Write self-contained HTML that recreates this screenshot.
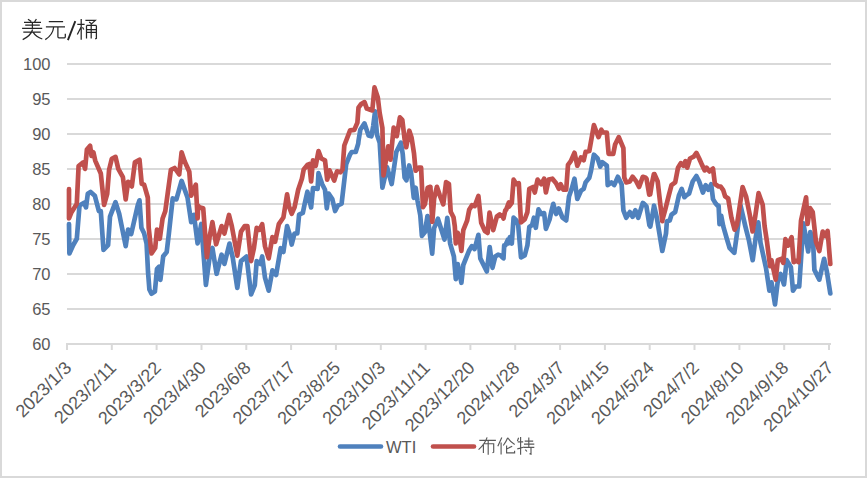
<!DOCTYPE html>
<html><head><meta charset="utf-8"><style>
html,body{margin:0;padding:0;background:#fff;}
body{width:867px;height:478px;overflow:hidden;}
svg{display:block;}
text{font-family:"Liberation Sans",sans-serif;fill:#595959;}
</style></head><body>
<svg width="867" height="478" viewBox="0 0 867 478">
<rect x="1" y="1" width="865" height="476" fill="#fff" stroke="#D9D9D9" stroke-width="2"/>
<g font-size="16.5"><line x1="67" y1="64" x2="831" y2="64" stroke="#D9D9D9" stroke-width="2"/><text x="50.5" y="69.5" text-anchor="end">100</text><line x1="67" y1="99" x2="831" y2="99" stroke="#D9D9D9" stroke-width="2"/><text x="50.5" y="104.5" text-anchor="end">95</text><line x1="67" y1="134" x2="831" y2="134" stroke="#D9D9D9" stroke-width="2"/><text x="50.5" y="139.5" text-anchor="end">90</text><line x1="67" y1="169" x2="831" y2="169" stroke="#D9D9D9" stroke-width="2"/><text x="50.5" y="174.5" text-anchor="end">85</text><line x1="67" y1="204" x2="831" y2="204" stroke="#D9D9D9" stroke-width="2"/><text x="50.5" y="209.5" text-anchor="end">80</text><line x1="67" y1="239" x2="831" y2="239" stroke="#D9D9D9" stroke-width="2"/><text x="50.5" y="244.5" text-anchor="end">75</text><line x1="67" y1="274" x2="831" y2="274" stroke="#D9D9D9" stroke-width="2"/><text x="50.5" y="279.5" text-anchor="end">70</text><line x1="67" y1="309" x2="831" y2="309" stroke="#D9D9D9" stroke-width="2"/><text x="50.5" y="314.5" text-anchor="end">65</text><text x="50.5" y="349.5" text-anchor="end">60</text><line x1="66" y1="344" x2="831" y2="344" stroke="#D9D9D9" stroke-width="2"/><line x1="67.0" y1="343" x2="67.0" y2="350" stroke="#D9D9D9" stroke-width="2"/><line x1="111.8" y1="343" x2="111.8" y2="350" stroke="#D9D9D9" stroke-width="2"/><line x1="156.6" y1="343" x2="156.6" y2="350" stroke="#D9D9D9" stroke-width="2"/><line x1="201.5" y1="343" x2="201.5" y2="350" stroke="#D9D9D9" stroke-width="2"/><line x1="246.3" y1="343" x2="246.3" y2="350" stroke="#D9D9D9" stroke-width="2"/><line x1="291.1" y1="343" x2="291.1" y2="350" stroke="#D9D9D9" stroke-width="2"/><line x1="335.9" y1="343" x2="335.9" y2="350" stroke="#D9D9D9" stroke-width="2"/><line x1="380.8" y1="343" x2="380.8" y2="350" stroke="#D9D9D9" stroke-width="2"/><line x1="425.6" y1="343" x2="425.6" y2="350" stroke="#D9D9D9" stroke-width="2"/><line x1="470.4" y1="343" x2="470.4" y2="350" stroke="#D9D9D9" stroke-width="2"/><line x1="515.2" y1="343" x2="515.2" y2="350" stroke="#D9D9D9" stroke-width="2"/><line x1="560.1" y1="343" x2="560.1" y2="350" stroke="#D9D9D9" stroke-width="2"/><line x1="604.9" y1="343" x2="604.9" y2="350" stroke="#D9D9D9" stroke-width="2"/><line x1="649.7" y1="343" x2="649.7" y2="350" stroke="#D9D9D9" stroke-width="2"/><line x1="694.5" y1="343" x2="694.5" y2="350" stroke="#D9D9D9" stroke-width="2"/><line x1="739.4" y1="343" x2="739.4" y2="350" stroke="#D9D9D9" stroke-width="2"/><line x1="784.2" y1="343" x2="784.2" y2="350" stroke="#D9D9D9" stroke-width="2"/><line x1="829.0" y1="343" x2="829.0" y2="350" stroke="#D9D9D9" stroke-width="2"/></g>
<g font-size="18"><text transform="translate(72.5,369.0) rotate(-45)" text-anchor="end">2023/1/3</text><text transform="translate(117.3,369.0) rotate(-45)" text-anchor="end">2023/2/11</text><text transform="translate(162.1,369.0) rotate(-45)" text-anchor="end">2023/3/22</text><text transform="translate(207.0,369.0) rotate(-45)" text-anchor="end">2023/4/30</text><text transform="translate(251.8,369.0) rotate(-45)" text-anchor="end">2023/6/8</text><text transform="translate(296.6,369.0) rotate(-45)" text-anchor="end">2023/7/17</text><text transform="translate(341.4,369.0) rotate(-45)" text-anchor="end">2023/8/25</text><text transform="translate(386.3,369.0) rotate(-45)" text-anchor="end">2023/10/3</text><text transform="translate(431.1,369.0) rotate(-45)" text-anchor="end">2023/11/11</text><text transform="translate(475.9,369.0) rotate(-45)" text-anchor="end">2023/12/20</text><text transform="translate(520.7,369.0) rotate(-45)" text-anchor="end">2024/1/28</text><text transform="translate(565.6,369.0) rotate(-45)" text-anchor="end">2024/3/7</text><text transform="translate(610.4,369.0) rotate(-45)" text-anchor="end">2024/4/15</text><text transform="translate(655.2,369.0) rotate(-45)" text-anchor="end">2024/5/24</text><text transform="translate(700.0,369.0) rotate(-45)" text-anchor="end">2024/7/2</text><text transform="translate(744.9,369.0) rotate(-45)" text-anchor="end">2024/8/10</text><text transform="translate(789.7,369.0) rotate(-45)" text-anchor="end">2024/9/18</text><text transform="translate(834.5,369.0) rotate(-45)" text-anchor="end">2024/10/27</text></g>
<path d="M69.0,224.0 L69.4,253.5 L73.1,245.2 L76.8,238.8 L79.5,205.5 L84.1,202.8 L86.0,207.4 L87.8,193.8 L90.6,192.0 L94.8,195.7 L98.9,211.1 L100.8,211.1 L103.5,249.8 L108.1,245.2 L110.0,216.6 L115.5,202.1 L119.2,213.8 L125.7,246.1 L128.1,229.5 L131.2,234.1 L137.7,205.5 L139.5,200.3 L141.4,227.7 L144.1,233.2 L146.6,243.8 L148.0,271.5 L149.4,289.5 L151.5,293.7 L154.9,291.6 L157.0,268.8 L159.1,266.7 L160.4,279.8 L163.2,256.3 L166.7,252.1 L168.8,234.2 L172.7,198.4 L176.4,199.4 L181.6,180.9 L187.5,197.5 L191.2,222.1 L193.9,214.8 L197.6,243.4 L201.3,224.0 L205.9,284.9 L209.6,257.2 L212.4,248.0 L216.6,273.8 L221.6,254.7 L224.4,263.9 L229.5,243.6 L232.7,257.4 L237.3,287.9 L241.0,261.1 L246.5,256.5 L251.1,294.4 L254.8,285.1 L256.7,261.1 L260.4,263.9 L262.2,256.5 L265.0,277.7 L268.7,290.7 L272.4,270.4 L276.1,275.0 L280.7,248.2 L283.4,251.9 L287.1,226.1 L289.9,235.3 L291.7,244.5 L294.5,233.5 L297.3,233.5 L299.1,214.7 L302.8,212.9 L304.7,203.7 L307.4,191.7 L311.1,207.4 L313.0,188.0 L317.6,188.9 L318.5,173.2 L322.2,184.3 L325.0,189.8 L326.8,208.3 L328.6,193.5 L332.3,199.1 L335.1,211.0 L337.9,205.5 L341.6,203.7 L346.2,164.0 L349.9,154.8 L351.7,152.0 L355.4,152.0 L355.7,152.0 L358.2,143.7 L358.5,140.9 L360.3,129.8 L364.5,123.4 L368.6,135.4 L371.4,136.3 L373.2,126.1 L375.1,111.4 L376.9,134.4 L379.7,142.7 L382.4,187.7 L387.1,167.4 L391.7,184.0 L396.3,152.0 L400.9,142.7 L402.7,153.8 L404.6,177.5 L406.4,180.3 L409.2,165.5 L411.1,172.9 L413.8,197.8 L415.7,187.7 L417.5,200.6 L420.3,215.4 L421.9,235.8 L422.1,235.7 L424.9,232.0 L427.5,216.0 L427.7,216.3 L432.2,253.7 L434.1,228.2 L437.9,218.8 L444.5,239.5 L447.3,217.9 L450.1,243.3 L453.9,256.5 L455.8,279.1 L457.7,264.0 L461.4,282.8 L463.3,265.0 L469.0,250.8 L471.8,246.1 L474.6,249.0 L478.4,234.8 L480.3,258.4 L486.8,271.5 L489.7,247.1 L492.5,267.8 L495.3,256.5 L498.1,254.6 L500.7,255.5 L502.4,257.3 L503.5,258.3 L504.2,245.3 L505.3,245.4 L507.9,239.8 L508.1,243.5 L509.9,237.1 L511.8,243.5 L513.6,217.7 L516.4,220.4 L518.2,225.1 L521.0,257.4 L524.7,255.5 L527.4,245.4 L529.3,226.9 L532.1,225.1 L533.9,217.7 L535.8,227.8 L538.5,209.4 L541.3,214.0 L544.1,213.1 L545.9,228.8 L549.6,219.5 L551.4,211.2 L553.3,203.8 L556.1,214.0 L558.8,208.5 L562.5,217.7 L566.2,220.4 L569.0,196.5 L571.7,188.8 L574.5,178.7 L577.3,199.0 L581.0,190.7 L583.7,188.8 L585.6,182.4 L589.3,177.7 L591.1,170.4 L593.9,154.7 L597.6,158.4 L600.3,166.7 L602.2,162.1 L606.8,165.7 L607.7,185.1 L611.4,182.4 L614.2,185.1 L617.9,176.8 L621.6,184.2 L623.4,210.3 L626.2,217.7 L629.9,212.1 L632.6,216.8 L635.4,210.3 L638.2,217.7 L642.8,202.9 L644.8,204.6 L646.5,206.6 L649.4,225.1 L650.2,226.0 L650.3,226.7 L653.9,206.6 L654.0,205.5 L656.8,217.5 L662.3,251.0 L666.0,233.5 L666.9,221.2 L669.7,220.5 L671.5,214.7 L675.2,212.0 L678.9,195.4 L681.7,188.9 L684.4,197.2 L686.3,195.4 L689.1,193.5 L692.7,181.5 L696.4,176.0 L699.2,181.5 L702.9,192.6 L705.7,185.2 L708.4,189.8 L711.2,184.3 L713.0,199.1 L715.8,203.7 L718.5,206.6 L718.6,205.5 L719.5,224.2 L721.2,215.8 L723.2,226.1 L726.9,239.0 L729.7,248.2 L734.3,252.8 L737.0,233.5 L740.6,205.7 L745.3,226.1 L749.0,240.8 L752.7,260.2 L755.5,239.0 L758.3,222.4 L760.5,242.7 L766.0,268.0 L769.4,290.7 L771.5,282.4 L775.0,304.5 L777.8,281.0 L780.5,274.0 L784.0,284.4 L786.7,260.2 L790.9,267.1 L793.0,290.7 L795.7,286.5 L799.2,286.5 L803.4,223.3 L808.2,251.5 L810.3,232.0 L813.0,239.9 L814.4,269.9 L819.3,279.6 L824.1,258.8 L826.9,271.8 L830.3,293.4" fill="none" stroke="#4F81BD" stroke-width="4.7" stroke-linejoin="round" stroke-linecap="round"/>
<path d="M69.0,189.2 L69.0,218.5 L71.2,212.9 L76.8,203.7 L78.6,166.1 L83.2,162.4 L85.1,168.9 L86.9,149.5 L90.1,145.8 L91.5,156.0 L93.4,152.3 L95.2,160.6 L100.8,173.5 L104.1,204.9 L107.2,193.8 L109.1,169.8 L111.8,158.8 L115.5,156.9 L118.3,168.9 L122.9,177.2 L125.7,199.4 L128.1,181.8 L131.8,186.4 L134.9,162.4 L139.5,159.7 L141.7,183.7 L144.1,184.6 L147.8,197.5 L148.7,227.7 L151.5,253.5 L155.2,248.0 L157.0,229.5 L159.8,238.8 L162.6,218.5 L165.3,211.1 L170.9,169.8 L174.6,168.0 L179.2,174.4 L181.6,152.3 L184.7,161.5 L189.3,171.7 L191.2,195.7 L195.8,184.6 L197.6,218.5 L198.2,205.8 L199.5,207.4 L203.2,208.3 L206.9,257.2 L209.6,236.9 L212.4,222.1 L216.1,244.3 L221.6,226.1 L224.4,233.5 L229.0,215.0 L231.8,226.1 L237.3,255.6 L241.0,231.6 L244.7,226.1 L247.4,226.1 L251.1,261.1 L253.9,248.2 L256.7,227.9 L259.4,229.8 L262.2,224.2 L265.0,246.4 L268.7,258.4 L272.4,237.1 L275.1,241.8 L278.8,224.2 L283.4,217.5 L287.1,194.4 L289.0,206.4 L291.7,213.8 L294.5,207.4 L298.2,189.8 L301.9,178.8 L303.7,169.5 L307.4,164.9 L309.3,164.0 L311.1,181.5 L313.0,160.3 L315.7,165.8 L318.5,151.1 L321.3,158.5 L325.0,160.3 L327.2,179.7 L329.6,170.4 L334.2,180.6 L337.0,171.4 L340.6,172.3 L342.5,169.5 L344.3,145.5 L350.1,130.4 L354.3,129.9 L357.4,122.6 L358.5,107.7 L361.2,104.0 L364.5,102.1 L366.8,108.6 L369.5,109.5 L372.3,110.4 L374.5,87.4 L377.8,97.5 L379.7,113.2 L382.4,128.0 L383.5,175.4 L388.2,146.4 L390.5,159.7 L393.7,127.6 L396.8,136.2 L399.9,117.4 L402.3,119.8 L404.6,139.3 L406.2,147.2 L409.3,130.7 L411.6,137.8 L414.0,153.4 L415.6,170.7 L418.8,167.6 L421.1,167.6 L422.1,189.5 L423.0,207.1 L424.9,204.3 L427.7,187.7 L430.4,186.8 L432.3,221.8 L434.1,198.8 L436.9,186.8 L439.7,195.1 L443.3,204.3 L446.1,182.1 L448.9,184.0 L450.7,211.7 L453.5,217.2 L454.8,226.4 L455.8,243.3 L457.7,232.9 L459.5,237.7 L461.4,250.8 L463.3,230.1 L467.1,220.7 L469.2,209.8 L472.0,205.2 L474.7,206.1 L478.4,196.0 L481.2,222.7 L484.9,231.0 L487.6,232.9 L489.5,212.6 L493.2,230.1 L496.9,216.3 L499.6,214.4 L499.8,215.8 L502.4,215.4 L503.5,218.6 L505.3,210.3 L506.1,209.8 L508.9,202.4 L509.0,206.6 L511.8,202.9 L513.6,179.6 L516.4,184.2 L518.8,183.3 L521.0,222.3 L524.7,219.5 L527.4,212.1 L529.3,188.8 L533.0,187.0 L534.8,192.5 L537.6,179.6 L541.3,184.2 L544.1,178.7 L545.9,192.5 L548.7,179.6 L552.4,178.7 L556.1,183.3 L558.8,188.8 L560.7,184.2 L563.4,189.7 L566.2,189.7 L568.0,164.8 L570.8,161.1 L574.5,152.8 L577.3,165.7 L581.0,157.4 L583.7,160.2 L585.6,151.9 L589.3,151.0 L593.9,125.1 L596.7,132.5 L598.5,137.1 L601.3,129.8 L603.1,132.5 L606.8,132.5 L608.6,153.8 L613.3,153.8 L615.1,144.5 L618.8,137.1 L623.4,148.2 L624.3,177.7 L626.2,182.4 L629.9,181.4 L632.6,176.8 L636.3,181.4 L639.1,187.0 L642.8,176.8 L645.7,177.8 L646.5,178.7 L649.2,194.6 L649.4,194.4 L650.2,194.4 L652.1,182.4 L653.9,174.1 L654.5,174.1 L657.7,181.5 L659.5,197.2 L662.3,221.2 L662.3,220.5 L665.1,210.1 L668.8,195.4 L671.5,185.2 L675.2,182.4 L678.0,167.7 L680.8,163.1 L683.5,165.8 L685.4,161.2 L687.2,167.7 L690.0,158.5 L693.7,156.6 L696.4,152.9 L699.2,158.5 L702.0,164.9 L704.7,170.4 L706.6,167.7 L709.4,171.4 L713.0,168.6 L714.9,184.0 L718.6,186.5 L720.7,186.6 L723.2,190.1 L725.1,196.3 L728.2,198.5 L731.4,217.7 L734.6,229.7 L736.9,225.0 L742.6,187.0 L746.1,196.5 L749.8,215.0 L752.6,231.5 L755.3,216.0 L758.6,193.2 L762.7,204.8 L764.6,226.1 L767.1,242.7 L770.1,266.2 L771.5,260.2 L775.7,279.6 L777.8,260.2 L781.2,258.8 L783.3,262.8 L785.4,239.2 L788.1,245.5 L791.6,237.1 L793.7,262.1 L796.4,260.7 L798.5,262.1 L801.0,220.7 L806.1,197.3 L807.6,224.0 L810.0,208.0 L812.7,212.0 L816.0,242.0 L819.3,251.0 L822.7,231.6 L825.5,236.0 L827.6,230.9 L830.3,264.0" fill="none" stroke="#C0504D" stroke-width="4.7" stroke-linejoin="round" stroke-linecap="round"/>
<line x1="340" y1="446.5" x2="381" y2="446.5" stroke="#4F81BD" stroke-width="4.6" stroke-linecap="round"/>
<text x="386" y="452.5" font-size="16.5">WTI</text>
<g fill="none" stroke="#262626" stroke-width="1.25" stroke-linecap="butt">
<path d="M28,19.2 L31.3,21.6 M36.4,19 L34.6,21.8 M24,22.4 H41 M25.2,25.1 H39.8 M22.1,28.4 H42.2 M32.4,22.4 V28.4 M23.3,32.2 H40.7 M32.6,29.5 Q31,35.5 22.7,39.6 M33,32.2 Q36,37 42.3,39"/>
<path d="M48.8,21.5 H63.1 M45.9,26.8 H65 M53.7,27 Q52.8,35 45.3,39.6 M57.9,27 V36.8 Q57.9,37.9 59,37.9 H64.5 Q65.3,37.9 65.3,36.5 V33.7"/>
<path d="M75.3,21.1 L67.9,40.2" stroke-width="1.9"/>
<path d="M77.3,24.3 H84.6 M81.2,19.1 V39.7 M81,27.2 L77.3,34.5 M82.5,27.2 L83.8,29.5 M85.4,20.4 H95.3 L91.2,24.1 M89.1,22 L91.7,23.8 M86.5,25.4 V38.6 M96.4,25.4 V38.4 L95.2,39 M86.5,25.4 H96.4 M86.5,29.5 H96.4 M86.5,32.4 H96.4 M91.2,23.8 V38.6"/>
</g>
<g fill="none" stroke="#595959" stroke-width="1.15">
<path d="M479.3,440.4 H495.9 M487.1,437.4 Q485,444 478.6,449.6 M483.4,443.7 V452.9 M483.4,443.7 H493.7 V452.2 L492.5,452.8 M488.2,440.7 V454.8"/>
<path d="M501.8,437.4 L497.8,446.3 M501.1,442.6 V454.4 M507.7,437.8 Q506,442 503.3,445.5 M507.7,437.8 Q510.5,442 514.7,444.6 M512.2,446.3 L506.6,448.9 M506.6,445.6 V452.9 H514.6 V450.7"/>
<path d="M518.6,437.8 L517.4,441 M517.7,441.9 H523.2 M520.6,437 V454.8 M517.3,448.9 L524.3,447 M524.7,441.1 H533.2 M528.8,437.4 V446.7 M524,444.1 H534.3 M524,447.4 H534.3 M531,447.4 V454.2 L529.5,453.6 M525.4,449.6 L526.9,451.5"/>
</g>
<line x1="433" y1="446.5" x2="474" y2="446.5" stroke="#C0504D" stroke-width="4.6" stroke-linecap="round"/>
</svg>
</body></html>
